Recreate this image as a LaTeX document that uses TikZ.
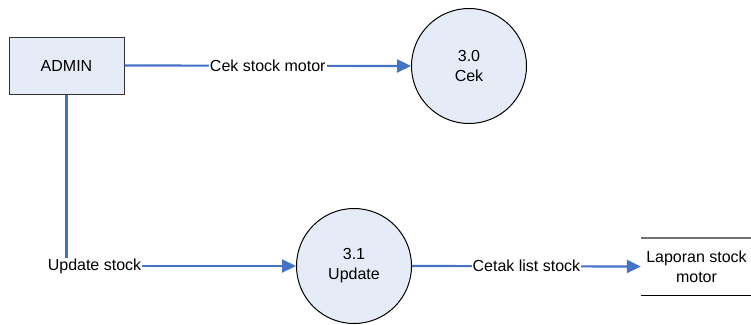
\documentclass[tikz,border=0pt]{standalone}
\usepackage{fontspec}
\setmainfont{Liberation Sans}
\usetikzlibrary{arrows.meta, positioning, calc}
\definecolor{boxfill}{RGB}{230,236,247}
\definecolor{flowblue}{RGB}{68,114,196}

\begin{document}
\begin{tikzpicture}[x=1pt, y=-1pt, font=\fontsize{16}{20}\selectfont,
                box/.style={draw=black!80, line width=1pt, fill=boxfill, minimum width=115pt, minimum height=57pt},
                proc/.style={draw, line width=1pt, circle, fill=boxfill, minimum size=115pt, inner sep=0pt, align=center},
                flow/.style={draw=flowblue, line width=2.2pt, -{Triangle[length=14pt, width=13pt]}},
                lbl/.style={fill=white, inner sep=1pt}]
                \useasboundingbox (0,0) rectangle (751,324);
                \node[box] (admin) at (66.5, 65.5) {ADMIN};
                \node[proc] (cek) at (469, 66) {3.0\\Cek};
                \node[proc] (update) at (354, 266) {3.1\\Update};
                \node[minimum width=111pt, minimum height=57pt, inner sep=0pt, align=center] (laporan) at (696.5, 266.5) {Laporan stock\\motor};
                \draw[black!55, line width=1.5pt] (laporan.north west) -- (laporan.north east);
                \draw[black, line width=1.2pt] (laporan.south west) -- (laporan.south east);
                \draw[flow] (admin.east) -- node[lbl] {Cek stock motor} (cek.west);
                \draw[flow] (admin.south) |- node[lbl, pos=0.5, xshift=28pt] {Update stock} (update.west);
                \draw[flow] (update.east) -- node[lbl] {Cetak list stock} (laporan.west);
            \end{tikzpicture}
\end{document}
